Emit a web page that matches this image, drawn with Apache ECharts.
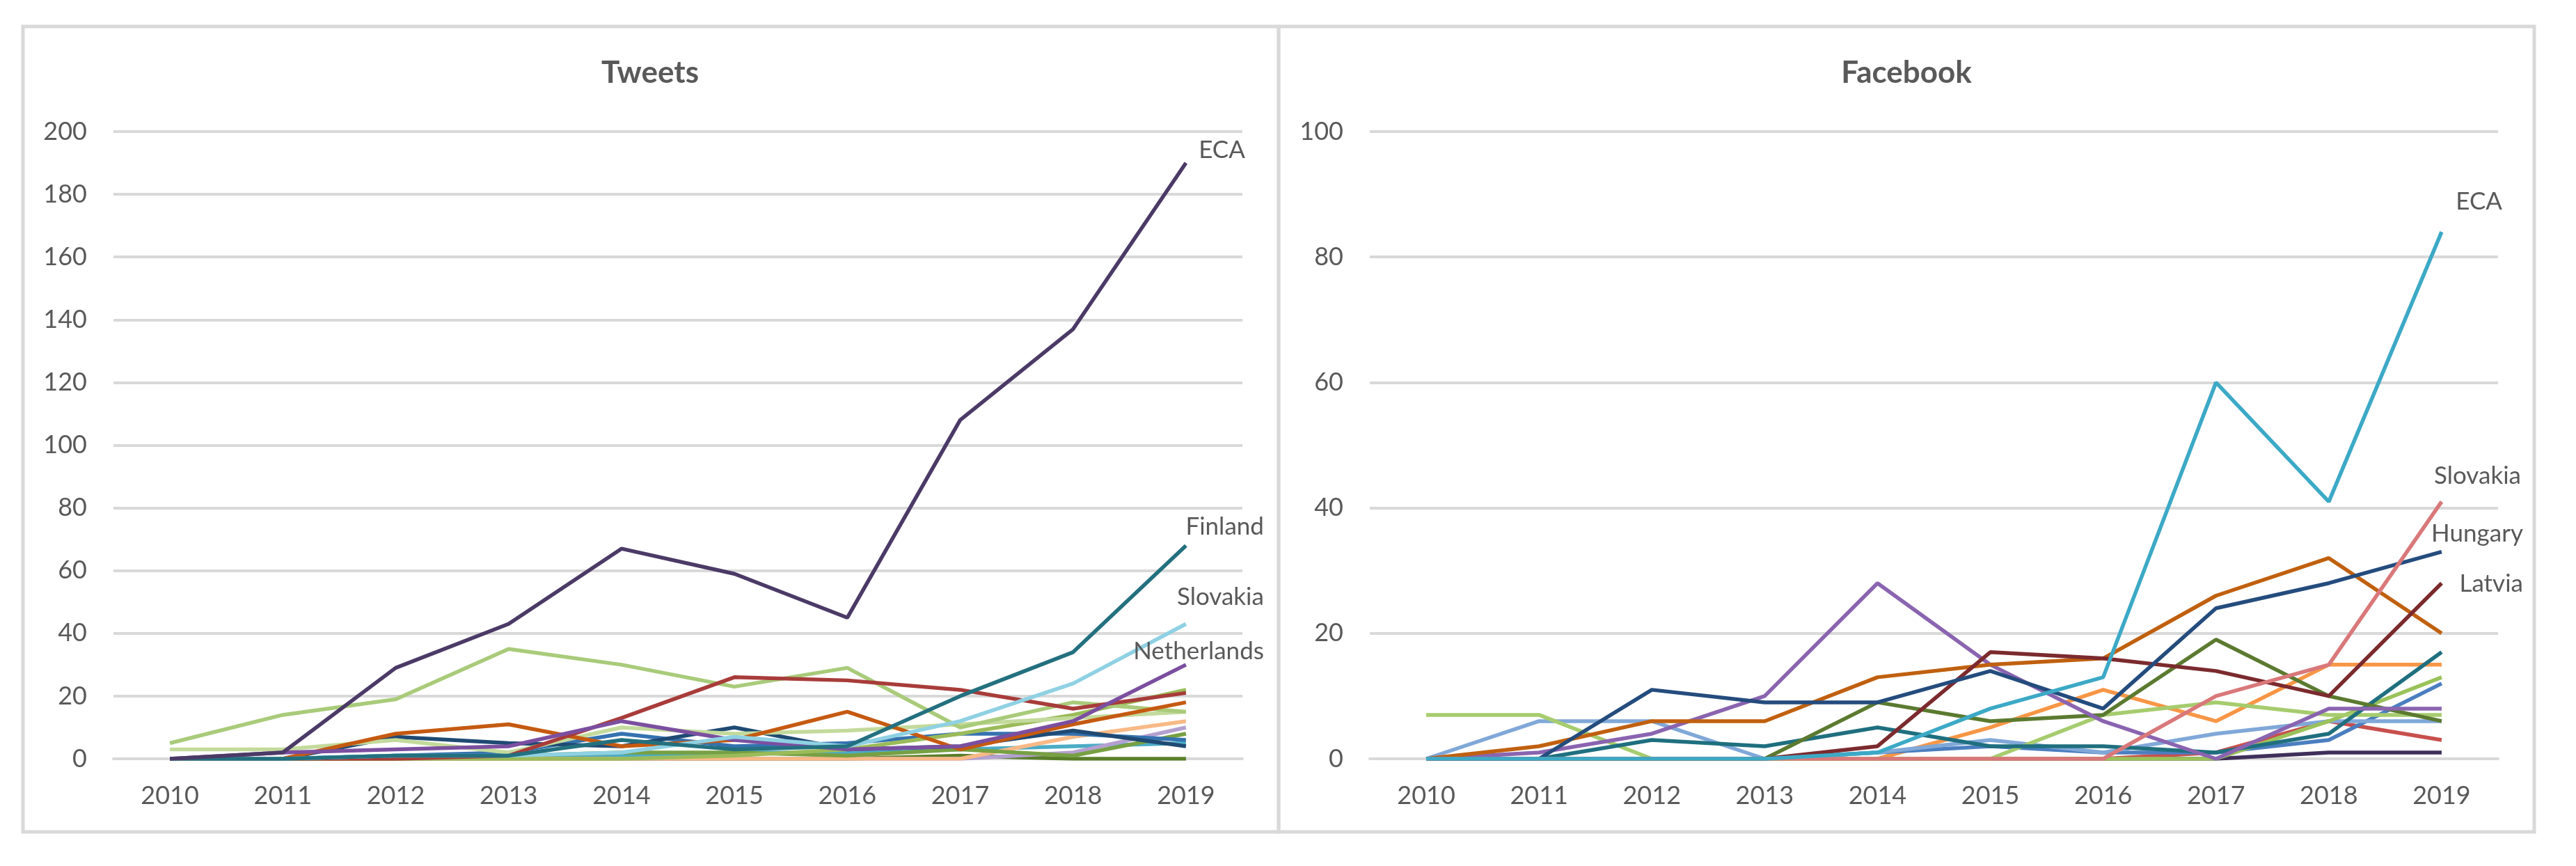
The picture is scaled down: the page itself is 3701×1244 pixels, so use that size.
<!DOCTYPE html>
<html>
<head>
<meta charset="utf-8">
<script src="https://cdn.jsdelivr.net/npm/echarts@6/dist/echarts.min.js"></script>
<style>
html,body{margin:0;padding:0;background:#fff;}
#c{width:3701px;height:1244px;}
</style>
</head>
<body>
<div id="c"></div>
<script>
// ---------- data ----------
const years = ['2010','2011','2012','2013','2014','2015','2016','2017','2018','2019'];
const tweetTicks = [0,20,40,60,80,100,120,140,160,180,200];
const fbTicks = [0,20,40,60,80,100];

// Tweets
const twECA         = [0, 2, 29, 43, 67, 59, 45, 108, 137, 190];
const twFinland     = [0, 0, 1, 1, 6, 3, 4, 20, 34, 68];
const twSlovakia    = [0, 0, 1, 1, 2, 7, 4, 12, 24, 43];
const twNetherlands = [0, 2, 3, 4, 12, 6, 3, 4, 12, 30];
const twRed         = [0, 0, 0, 1, 13, 26, 25, 22, 16, 21];
const twOrange      = [0, 0, 8, 11, 4, 6, 15, 3, 11, 18];
const twLightGreen  = [5, 14, 19, 35, 30, 23, 29, 10, 18, 15];
const twPaleGreen   = [3, 3, 6, 2, 10, 8, 9, 11, 13, 15];
const twGreen       = [0, 0, 0, 0, 0, 1, 3, 8, 14, 22];
const twNavy        = [0, 0, 7, 5, 4, 10, 3, 4, 9, 4];
const twBlue        = [0, 0, 1, 2, 8, 4, 5, 8, 8, 6];
const twMidGreen    = [0, 0, 0, 1, 2, 2, 1, 3, 1, 8];
const twDarkGreen   = [0, 0, 0, 0, 0, 0, 0, 1, 0, 0];
const twPeach       = [0, 0, 0, 0, 0, 0, 0, 0, 7, 12];
const twLavender    = [0, 0, 0, 0, 0, 0, 0, 0, 2, 10];
const twLightBlue   = [0, 0, 1, 1, 1, 2, 2, 3, 4, 5];

// Facebook
const fbECA         = [0, 0, 0, 0, 1, 8, 13, 60, 41, 84];
const fbSlovakia    = [0, 0, 0, 0, 0, 0, 0, 10, 15, 41];
const fbHungary     = [0, 0, 11, 9, 9, 14, 8, 24, 28, 33];
const fbLatvia      = [0, 0, 0, 0, 2, 17, 16, 14, 10, 28];
const fbOrange      = [0, 2, 6, 6, 13, 15, 16, 26, 32, 20];
const fbPurple      = [0, 1, 4, 10, 28, 15, 6, 0, 8, 8];
const fbDarkGreen   = [0, 0, 0, 0, 9, 6, 7, 19, 10, 6];
const fbTeal        = [0, 0, 3, 2, 5, 2, 2, 1, 4, 17];
const fbLightGreen  = [7, 7, 0, 0, 0, 0, 7, 9, 7, 7];
const fbPaleGreen   = [0, 0, 0, 0, 0, 0, 0, 0, 6, 13];
const fbLightBlue   = [0, 6, 6, 0, 1, 3, 1, 4, 6, 6];
const fbBlue        = [0, 0, 0, 0, 1, 2, 1, 1, 3, 12];
const fbLightOrange = [0, 0, 0, 0, 0, 5, 11, 6, 15, 15];
const fbRed         = [0, 0, 0, 0, 0, 0, 0, 1, 6, 3];
const fbDarkPurple  = [0, 0, 0, 0, 0, 0, 0, 0, 1, 1];

// ---------- chart ----------
const TXT = '#595959';
const GRID = '#d9d9d9';
const FONT = 'Lato, "Open Sans", sans-serif';

function line(idx, name, data, color, lab) {
  const s = {
    type: 'line', name: name, data: data,
    xAxisIndex: idx, yAxisIndex: idx,
    symbol: 'none', silent: true, animation: false,
    lineStyle: { color: color, width: 5.5 },
    itemStyle: { color: color },
    z: 3
  };
  if (lab) {
    s.markPoint = {
      symbol: 'circle', symbolSize: 1, silent: true, animation: false,
      itemStyle: { color: 'rgba(0,0,0,0)' },
      data: [{ coord: [years[years.length - 1], data[data.length - 1]] }],
      label: {
        show: true, formatter: name, position: 'inside',
        align: 'right', verticalAlign: 'middle',
        offset: lab, color: TXT, fontSize: 35, fontFamily: FONT
      }
    };
  }
  return s;
}

function xAxis(idx) {
  return {
    type: 'category', gridIndex: idx, data: years, boundaryGap: true,
    axisLine: { show: true, lineStyle: { color: GRID, width: 4 } },
    axisTick: { show: false },
    axisLabel: { color: TXT, fontSize: 36, fontFamily: FONT, margin: 35 },
    splitLine: { show: false }
  };
}
function yAxis(idx, ticks) {
  return {
    type: 'value', gridIndex: idx, min: ticks[0], max: ticks[ticks.length - 1],
    interval: ticks[1] - ticks[0],
    axisLine: { show: false }, axisTick: { show: false },
    axisLabel: { color: TXT, fontSize: 36, fontFamily: FONT, margin: 38 },
    splitLine: { show: true, lineStyle: { color: GRID, width: 4 } }
  };
}

const chart = echarts.init(document.getElementById('c'), null, { renderer: 'canvas' });
chart.setOption({
  backgroundColor: '#ffffff',
  animation: false,
  grid: [
    { left: 163, right: 3701 - 1785, top: 189, bottom: 1244 - 1090, containLabel: false },
    { left: 1968, right: 3701 - 3589, top: 189, bottom: 1244 - 1090, containLabel: false }
  ],
  xAxis: [xAxis(0), xAxis(1)],
  yAxis: [yAxis(0, tweetTicks), yAxis(1, fbTicks)],
  graphic: [
    { type: 'rect', shape: { x: 33, y: 38, width: 1804, height: 1157 }, style: { fill: 'none', stroke: GRID, lineWidth: 5 }, silent: true, z: 0 },
    { type: 'rect', shape: { x: 1837, y: 38, width: 1804, height: 1157 }, style: { fill: 'none', stroke: GRID, lineWidth: 5 }, silent: true, z: 0 },
    { type: 'text', x: 934, y: 105, style: { text: 'Tweets', fill: TXT, font: 'bold 44px ' + FONT, align: 'center', verticalAlign: 'middle' }, silent: true },
    { type: 'text', x: 2739, y: 105, style: { text: 'Facebook', fill: TXT, font: 'bold 44px ' + FONT, align: 'center', verticalAlign: 'middle' }, silent: true }
  ],
  series: [
    line(0, 'Dark green', twDarkGreen, '#5A7F2A'),
    line(0, 'Light blue', twLightBlue, '#4BACC6'),
    line(0, 'Lavender', twLavender, '#B4A0D0'),
    line(0, 'Peach', twPeach, '#F8B986'),
    line(0, 'Mid green', twMidGreen, '#77A043'),
    line(0, 'Blue', twBlue, '#3572B0'),
    line(0, 'Navy', twNavy, '#1F4A73'),
    line(0, 'Green', twGreen, '#9BBB59'),
    line(0, 'Pale green', twPaleGreen, '#C3DA9C'),
    line(0, 'Light green', twLightGreen, '#A9CB7A'),
    line(0, 'Orange', twOrange, '#C55A11'),
    line(0, 'Red', twRed, '#A83C3A'),
    line(0, 'Netherlands', twNetherlands, '#7B4FA0', [112, -19]),
    line(0, 'Slovakia', twSlovakia, '#8FD1E3', [112, -39]),
    line(0, 'Finland', twFinland, '#23707F', [112, -27]),
    line(0, 'ECA', twECA, '#4B3A66', [85, -18]),

    line(1, 'Dark purple', fbDarkPurple, '#3F2F5A'),
    line(1, 'Red', fbRed, '#C8504D'),
    line(1, 'Light orange', fbLightOrange, '#F79646'),
    line(1, 'Blue', fbBlue, '#4A7EC0'),
    line(1, 'Light blue', fbLightBlue, '#80A8D8'),
    line(1, 'Pale green', fbPaleGreen, '#9AC25A'),
    line(1, 'Light green', fbLightGreen, '#A6CC6E'),
    line(1, 'Teal', fbTeal, '#1F6F7F'),
    line(1, 'Dark green', fbDarkGreen, '#5B7A30'),
    line(1, 'Purple', fbPurple, '#8A64B0'),
    line(1, 'Orange', fbOrange, '#C0600F'),
    line(1, 'Latvia', fbLatvia, '#7B2A2E', [117, 1]),
    line(1, 'Hungary', fbHungary, '#244C7D', [117, -26]),
    line(1, 'Slovakia', fbSlovakia, '#D9787A', [114, -37]),
    line(1, 'ECA', fbECA, '#3CA9C6', [87, -43])
  ]
});
</script>
</body>
</html>
